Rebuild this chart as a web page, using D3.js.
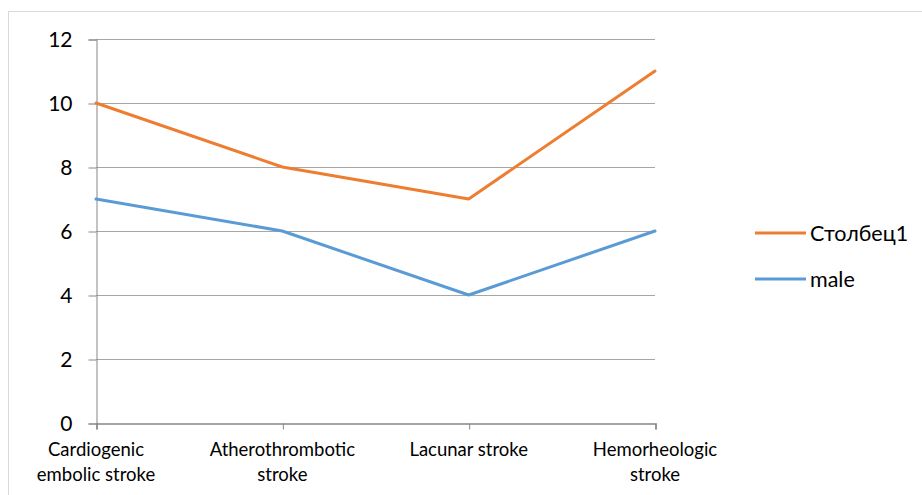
<!DOCTYPE html>
<html>
<head>
<meta charset="utf-8">
<script src="https://cdn.jsdelivr.net/npm/d3@7"></script>
<style>
  body { margin: 0; background: #fff; }
  text { font-family: Lato, 'Open Sans', sans-serif; fill: #000; }
</style>
</head>
<body>
<div id="chart"></div>
<script>
var categories = [['Cardiogenic', 'embolic stroke'], ['Atherothrombotic', 'stroke'], ['Lacunar stroke'], ['Hemorheologic', 'stroke']]
var seriesNames = ['Столбец1', 'male']
var stolbec1 = [10, 8, 7, 11]
var male = [7, 6, 4, 6]
var yTicks = [0, 2, 4, 6, 8, 10, 12]
var colors = ['#ED7D31', '#5B9BD5']

var width = 922
var height = 495

var svg = d3.select('#chart').append('svg')
    .attr('width', width)
    .attr('height', height)

// chart border
svg.append('rect')
    .attr('x', 8.5)
    .attr('y', 11.5)
    .attr('width', 930)
    .attr('height', 500)
    .attr('fill', 'none')
    .attr('stroke', '#d9d9d9')

var x = d3.scalePoint()
    .domain(d3.range(categories.length))
    .range([96, 655])

var y = d3.scaleLinear()
    .domain([0, 12])
    .range([423, 39])

// gridlines
svg.append('g')
    .selectAll('line')
    .data(yTicks.slice(1))
    .enter().append('line')
    .attr('x1', 96)
    .attr('x2', 655)
    .attr('y1', function(d) { return Math.round(y(d)) + 0.5 })
    .attr('y2', function(d) { return Math.round(y(d)) + 0.5 })
    .attr('stroke', '#a6a6a6')
    .attr('stroke-width', 1)

// y axis
var yAxis = svg.append('g')
    .attr('transform', 'translate(96.5,0.5)')
    .call(d3.axisLeft(y).tickValues(yTicks).tickSize(8).tickPadding(16))
yAxis.select('.domain').attr('stroke', '#868686')
yAxis.selectAll('.tick line').attr('stroke', '#868686')
yAxis.selectAll('text')
    .style('font-size', '21px')
    .attr('fill', '#000')

// x axis
var xAxis = svg.append('g')
    .attr('transform', 'translate(0.5,423.5)')
    .call(d3.axisBottom(x).tickSize(6).tickFormat(''))
xAxis.select('.domain').attr('stroke', '#868686').attr('stroke-width', 1.5)
xAxis.selectAll('.tick line').attr('stroke', '#868686')

var xLabels = svg.append('g')
    .selectAll('text')
    .data(categories)
    .enter().append('text')
    .attr('text-anchor', 'middle')
    .style('font-size', '18.5px')
    .attr('transform', function(d, i) { return 'translate(' + x(i) + ',456)' })

xLabels.selectAll('tspan')
    .data(function(d) { return d })
    .enter().append('tspan')
    .attr('x', 0)
    .attr('dy', function(d, i) { return i === 0 ? 0 : 25 })
    .text(function(d) { return d })

// lines
var line = d3.line()
    .x(function(d, i) { return x(i) })
    .y(function(d) { return y(d) })

var seriesData = [stolbec1, male]

svg.append('g')
    .selectAll('path')
    .data(seriesData)
    .enter().append('path')
    .attr('d', line)
    .attr('fill', 'none')
    .attr('stroke', function(d, i) { return colors[i] })
    .attr('stroke-width', 3)
    .attr('stroke-linejoin', 'round')
    .attr('stroke-linecap', 'round')

// legend
var legend = svg.append('g')
    .selectAll('g')
    .data(seriesNames)
    .enter().append('g')
    .attr('transform', function(d, i) { return 'translate(755,' + (233 + i * 46) + ')' })

legend.append('line')
    .attr('x1', 0)
    .attr('x2', 51)
    .attr('stroke', function(d, i) { return colors[i] })
    .attr('stroke-width', 3)

legend.append('text')
    .attr('x', 55)
    .attr('dy', '0.35em')
    .style('font-size', '21.5px')
    .text(function(d) { return d })
</script>
</body>
</html>
